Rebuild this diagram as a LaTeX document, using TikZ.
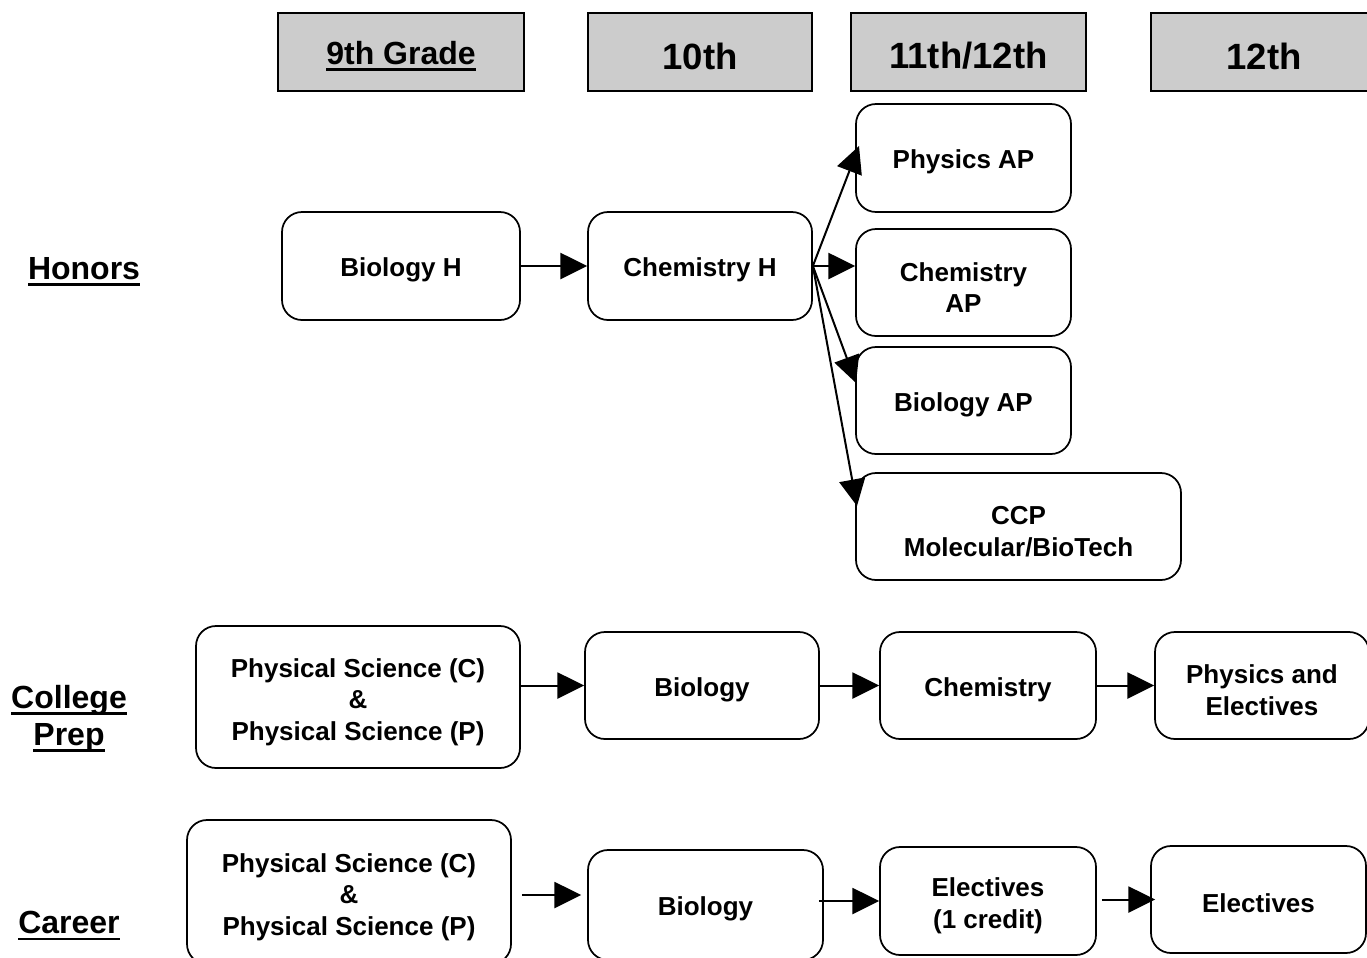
\documentclass[tikz,border=0pt]{standalone}
\usepackage{fontspec}
\setmainfont{Liberation Sans}
\usetikzlibrary{arrows.meta}
\definecolor{hdrgray}{HTML}{CCCCCC}
\newcommand\thul[1]{\setbox0\hbox{#1}\rlap{\rule[-0.2em]{\wd0}{0.09em}}\box0}
\newcommand\toppad{\rule{0pt}{21.5pt}}
\def\u{0.75pt}
\begin{document}
\begin{tikzpicture}[x=0.75pt,y=-0.75pt,
  box/.style={draw, line width=1.3pt, rounded corners=15pt, align=center, inner sep=0pt,
    font=\fontsize{19.5}{23.6}\selectfont\bfseries, execute at begin node={\rule{0pt}{20pt}}},
  hdr/.style={draw, line width=1.1pt, fill=hdrgray, inner sep=0pt, minimum height=78*\u},
  hdrbig/.style={font=\fontsize{27.4}{30}\selectfont\bfseries, execute at begin node={\rule{0pt}{26pt}}},
  hdrsmall/.style={font=\fontsize{24}{28}\selectfont\bfseries, execute at begin node={\rule{0pt}{23pt}}},
  lbl/.style={align=center, font=\fontsize{24}{27.75}\selectfont\bfseries, inner sep=0pt},
  arr/.style={line width=1.5pt, -{Triangle[length=20pt,width=19.5pt]}}]
\useasboundingbox (0,0) rectangle (1367,957);
% headers
\node[hdr, hdrsmall, minimum width=246*\u] (h9) at (401,52) {\thul{9th Grade}};
\node[hdr, hdrbig, minimum width=224*\u] (h10) at (700,52) {10th};
\node[hdr, hdrbig, minimum width=235*\u] (h11) at (968.5,52) {11th/12th};
\node[hdr, hdrbig, minimum width=226*\u] (h12) at (1264,52) {12th};
% row labels
\node[lbl] (lhon) at (84,272) {\thul{Honors}};
\node[lbl] (lcol) at (69,719) {\thul{College}\\\thul{Prep}};
\node[lbl] (lcar) at (69,926) {\thul{Career}};
% honors
\node[box, minimum width=238*\u, minimum height=108*\u] (bioH) at (401,266) {Biology H};
\node[box, minimum width=224*\u, minimum height=108*\u] (chemH) at (700,266) {Chemistry H};
\node[box, minimum width=215*\u, minimum height=108*\u] (physAP) at (963.5,158) {Physics AP};
\node[box, minimum width=215*\u, minimum height=107*\u] (chemAP) at (963.5,282.5) {\toppad Chemistry\\AP};
\node[box, minimum width=215*\u, minimum height=107*\u] (bioAP) at (963.5,400.5) {Biology AP};
\node[box, minimum width=325*\u, minimum height=107*\u] (ccp) at (1018.5,526.5) {\toppad CCP\\Molecular/BioTech};
% college prep
\node[box, minimum width=324*\u, minimum height=142*\u] (cps) at (358,697) {\toppad Physical Science (C)\\\&\\Physical Science (P)};
\node[box, minimum width=234*\u, minimum height=107*\u] (cbio) at (702,685.5) {Biology};
\node[box, minimum width=216*\u, minimum height=107*\u] (cchem) at (988,685.5) {Chemistry};
\node[box, minimum width=214*\u, minimum height=107*\u] (cphys) at (1262,685.5) {\toppad Physics and\\Electives};
% career
\node[box, minimum width=324*\u, minimum height=144*\u] (kps) at (349,892) {\toppad Physical Science (C)\\\&\\Physical Science (P)};
\node[box, minimum width=235*\u, minimum height=110*\u] (kbio) at (705.5,905) {Biology};
\node[box, minimum width=216*\u, minimum height=108*\u] (kel1) at (988,901) {\toppad Electives\\(1 credit)};
\node[box, minimum width=215*\u, minimum height=107*\u] (kel2) at (1258.5,899.5) {Electives};
% honors arrows
\coordinate (tphys) at (859,146);
\coordinate (tbio) at (856,383);
\coordinate (tccp) at (857,506);
\draw[arr] (bioH.east) -- (chemH.west);
\draw[arr] (chemH.east) -- (tphys);
\draw[arr] (chemH.east) -- (chemAP.west |- chemH.east);
\draw[arr] (chemH.east) -- (tbio);
\draw[arr] (chemH.east) -- (tccp);
% college arrows
\draw[arr] (cps.east |- cbio.west) -- (cbio.west);
\draw[arr] (cbio.east) -- (cchem.west);
\draw[arr] (cchem.east) -- (cphys.west);
% career arrows
\draw[arr] ([xshift=7.5pt,yshift=-2.25pt]kps.east) -- ([xshift=-4.5pt,yshift=-2.25pt]kbio.west |- kps.east);
\draw[arr] ([xshift=-3.75pt]kbio.east |- kel1.west) -- (kel1.west);
\draw[arr] ([xshift=3.75pt]kel1.east |- kel2.west) -- ([xshift=3.75pt]kel2.west);
\end{tikzpicture}
\end{document}
